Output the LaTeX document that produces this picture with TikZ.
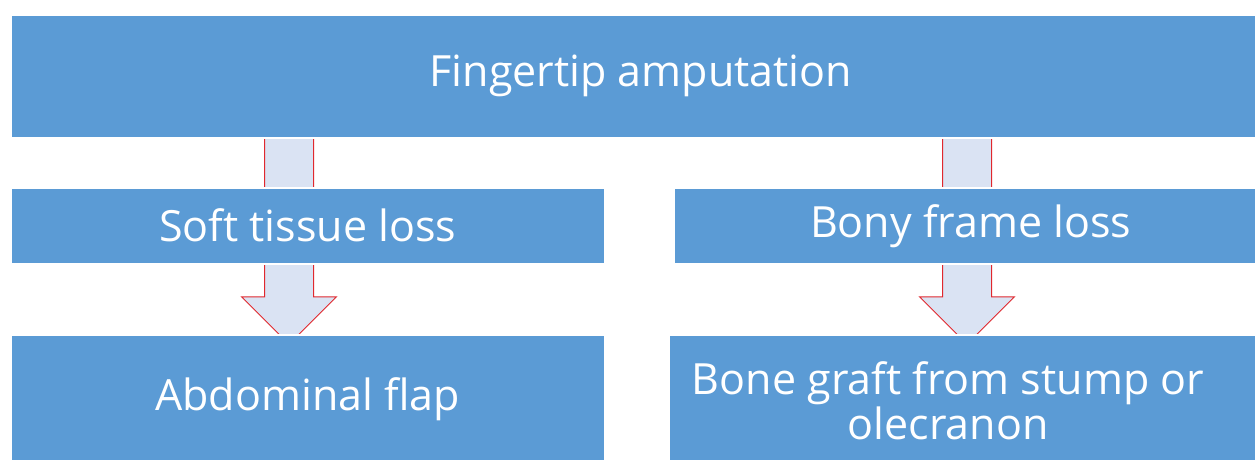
\documentclass[tikz,border=0pt]{standalone}
\usepackage{xcolor}
\usepackage{fontspec}
\setmainfont{Open Sans}
\usepackage{tikz}
\usetikzlibrary{shapes.arrows}
\definecolor{boxblue}{HTML}{5B9BD5}
\definecolor{arrowfill}{HTML}{DAE3F3}
\definecolor{arrowline}{HTML}{E0282E}
\tikzset{
    blockbox/.style = {rectangle, draw=white, line width=1.5pt, fill=boxblue, anchor=north west, inner sep=0pt, text=white, font=\fontsize{43}{45}\selectfont},
    boxtext/.style = {align=center, text=white, inner sep=0pt, font=\fontsize{43}{45}\selectfont},
    downarrow/.style = {single arrow, draw=arrowline, fill=arrowfill, line width=1pt, rotate=-90, inner xsep=0pt, inner ysep=24pt, minimum width=94pt, minimum height=207pt, single arrow head extend=23pt},
}

\begin{document}
\begin{tikzpicture}[x=1pt, y=-1pt]
  \useasboundingbox (0,0) rectangle (1255,459);
  \clip (0,0) rectangle (1255,459);
  % block arrows go underneath the boxes
  \node[downarrow] (arrL) at (289,228.5) {};
  \node[downarrow] (arrR) at (967,228.5) {};
  % boxes
  \node[blockbox, minimum width=1260pt, minimum height=123pt] (top) at (10,14) {Fingertip amputation};
  \node[blockbox, minimum width=594pt, minimum height=76pt] (softloss) at (10,187) {Soft tissue loss};
  \node[blockbox, minimum width=594pt, minimum height=76pt] (bonyloss) at (673,187) {Bony frame loss};
  \node[blockbox, minimum width=594pt, minimum height=128pt] (abdflap) at (10,334) {Abdominal flap};
  \node[blockbox, minimum width=600pt, minimum height=128pt] (bonegraft) at (668,334) {};
  \node[boxtext] (bonegrafttext) at (948,401) {Bone graft from stump or\\olecranon};
\end{tikzpicture}
\end{document}
